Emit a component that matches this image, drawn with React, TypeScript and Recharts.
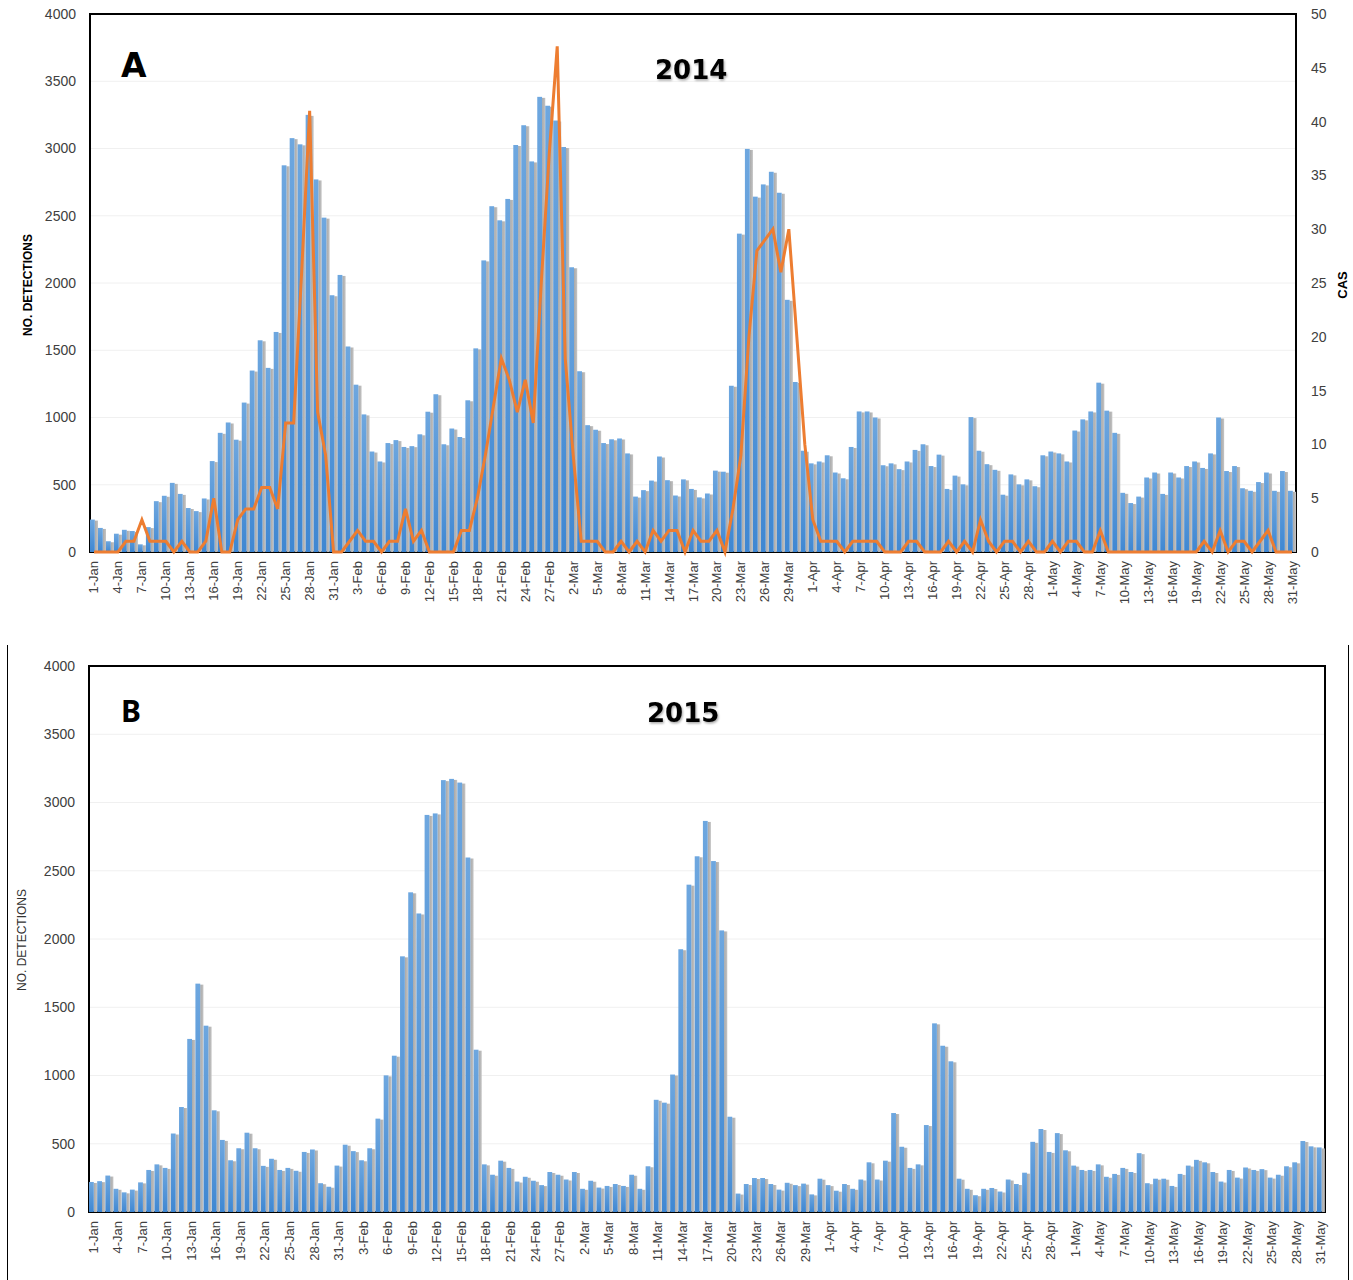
import React from 'react';
import { ComposedChart, BarChart, Bar, Line, XAxis, YAxis, CartesianGrid, ReferenceArea } from 'recharts';

// Jan 1 – May 31, same calendar both years (neither is a leap year)
const MONTHS: [string, number][] = [['Jan', 31], ['Feb', 28], ['Mar', 31], ['Apr', 30], ['May', 31]];
const DAYS = MONTHS.flatMap(([m, n]) => Array.from({ length: n }, (_, i) => `${i + 1}-${m}`));

const DETECTION_TICKS = [0, 500, 1000, 1500, 2000, 2500, 3000, 3500, 4000];
const CAS_TICKS = [0, 5, 10, 15, 20, 25, 30, 35, 40, 45, 50];

// 2014 daily detections
const det2014 = [
  241, 179, 80, 136, 165, 156, 57, 185, 378, 418, 514, 432, 327, 304, 398, 676, 886, 963, 835, 1111,
  1349, 1574, 1369, 1636, 2875, 3077, 3031, 3250, 2770, 2486, 1909,
  2060, 1528, 1244, 1023, 747, 673, 810, 832, 781, 787, 875, 1043, 1173, 801, 918, 855, 1128, 1514, 2168, 2571,
  2466, 2625, 3026, 3173, 2904, 3384, 3318, 3208,
  3011, 2117, 1344, 943, 909, 810, 838, 844, 733, 412, 460, 531, 710, 534, 420, 540, 469, 406, 435, 605,
  597, 1236, 2367, 2997, 2642, 2733, 2827, 2671, 1875, 1264, 753,
  659, 673, 719, 591, 548, 781, 1045, 1045, 1000, 645, 659, 616, 673, 759, 801, 639, 724, 469, 568, 503,
  1003, 753, 653, 611, 426, 577, 503, 540, 489, 719,
  747, 733, 673, 903, 986, 1045, 1259, 1051, 886, 440, 364, 412, 554, 591, 432, 591, 554, 639, 673, 625,
  733, 1000, 602, 639, 474, 455, 520, 591, 455, 602, 455,
];

// 2014 daily CAS counts (right axis)
const cas2014 = [
  0, 0, 0, 0, 1, 1, 3, 1, 1, 1, 0, 1, 0, 0, 1, 5, 0, 0, 3, 4, 4, 6, 6, 4, 12, 12, 26, 41, 13, 9, 0,
  0, 1, 2, 1, 1, 0, 1, 1, 4, 1, 2, 0, 0, 0, 0, 2, 2, 5, 9, 13.5, 18, 16, 13, 16, 12, 25, 37, 47,
  18, 9, 1, 1, 1, 0, 0, 1, 0, 1, 0, 2, 1, 2, 2, 0, 2, 1, 1, 2, 0, 4, 9, 20, 28, 29, 30, 26, 30, 20, 10,
  3, 1, 1, 1, 0, 1, 1, 1, 1, 0, 0, 0, 1, 1, 0, 0, 0, 1, 0, 1, 0, 3, 1, 0, 1, 1, 0, 1, 0, 0,
  1, 0, 1, 1, 0, 0, 2, 0, 0, 0, 0, 0, 0, 0, 0, 0, 0, 0, 0, 1, 0, 2, 0, 1, 1, 0, 1, 2, 0, 0, 0,
];

// 2015 daily detections
const det2015 = [
  220, 226, 267, 170, 144, 164, 217, 308, 349, 323, 575, 769, 1268, 1673, 1365, 745, 528, 379, 467, 581,
  467, 338, 390, 308, 323, 302, 440, 458, 211, 185, 340,
  493, 446, 379, 467, 684, 1001, 1145, 1873, 2342, 2187, 2909, 2920, 3164, 3173, 3146, 2597, 1189, 349, 273, 376,
  323, 223, 258, 229, 197, 293, 273, 238,
  293, 170, 229, 179, 191, 205, 191, 273, 170, 335, 822, 801, 1007, 1925, 2398, 2606, 2865, 2571, 2063, 698,
  135, 205, 249, 249, 205, 164, 214, 197, 208, 129, 244,
  197, 156, 205, 170, 238, 364, 238, 376, 725, 478, 323, 349, 637, 1382, 1218, 1104, 244, 170, 123, 170,
  176, 150, 238, 205, 288, 514, 608, 440, 578, 452,
  340, 308, 308, 349, 258, 279, 323, 293, 431, 211, 244, 244, 191, 279, 340, 382, 364, 293, 223, 308,
  252, 326, 308, 314, 252, 273, 335, 364, 520, 481, 473,
];

const rows2014 = DAYS.map((day, i) => ({ day, det: det2014[i], cas: cas2014[i] }));
const rows2015 = DAYS.map((day, i) => ({ day, det: det2015[i] }));

const FONT = '"Liberation Sans", Arial, sans-serif';
const TICK_STYLE = { fontSize: 14, fill: '#404040', fontFamily: FONT };

// rotated date labels below the axis
const DayTick = (props: any) => {
  const { x, y, payload } = props;
  return (
    <text
      x={x}
      y={y + 7}
      transform={`rotate(-90, ${x}, ${y + 7})`}
      textAnchor="end"
      dominantBaseline="central"
      fontSize={13}
      fontFamily={FONT}
      fill="#404040"
    >
      {payload.value}
    </text>
  );
};

// blue column with the grey shading Excel puts next to it
const makeBar = (id: string) => (props: any) => {
  const { x, y, width, height } = props;
  if (!height || height <= 0) return null;
  const bw = width * 0.6;
  return (
    <g>
      <rect x={x + bw} y={y + 1} width={width - bw} height={Math.max(height - 1, 0)} fill={`url(#grey${id})`} />
      <rect x={x} y={y} width={bw} height={height} fill={`url(#blue${id})`} />
    </g>
  );
};

const Gradients = ({ id }: { id: string }) => (
  <defs>
    <linearGradient id={`blue${id}`} x1="0" y1="0" x2="0" y2="1">
      <stop offset="0%" stopColor="#6ea7df" />
      <stop offset="100%" stopColor="#3f87d2" />
    </linearGradient>
    <linearGradient id={`grey${id}`} x1="0" y1="0" x2="1" y2="0">
      <stop offset="0%" stopColor="#a8a8a8" />
      <stop offset="100%" stopColor="#c4c4c4" />
    </linearGradient>
  </defs>
);

export default function App() {
  return (
    <div style={{ position: 'absolute', left: 0, top: 0, width: 1353, height: 1280, background: '#fff' }}>
      {/* Panel A: 2014 */}
      <div style={{ position: 'absolute', left: 0, top: 0 }}>
        <ComposedChart width={1353} height={620} data={rows2014} margin={{ top: 14, right: 0, bottom: 0, left: 0 }} barCategoryGap={0}>
          <Gradients id="A" />
          <CartesianGrid vertical={false} stroke="#f0f0f0" yAxisId="left" />
          <XAxis dataKey="day" interval={2} tick={<DayTick />} tickLine={false} axisLine={false} tickSize={0} height={68} />
          <YAxis yAxisId="left" domain={[0, 4000]} ticks={DETECTION_TICKS} width={90} tick={TICK_STYLE}
            tickLine={false} axisLine={false} tickSize={6} tickMargin={8} />
          <YAxis yAxisId="right" orientation="right" domain={[0, 50]} ticks={CAS_TICKS} width={57} tick={TICK_STYLE}
            tickLine={false} axisLine={false} tickSize={6} tickMargin={9} />
          <Bar yAxisId="left" dataKey="det" shape={makeBar('A')} isAnimationActive={false} />
          <Line yAxisId="right" dataKey="cas" type="linear" stroke="#ed7d31" strokeWidth={3} dot={false} isAnimationActive={false} />
          <ReferenceArea yAxisId="left" y1={0} y2={4000} fill="none" stroke="#000" strokeWidth={2} />
        </ComposedChart>
      </div>

      {/* Panel B: 2015 */}
      <div style={{ position: 'absolute', left: 0, top: 652 }}>
        <BarChart width={1353} height={628} data={rows2015} margin={{ top: 14, right: 28, bottom: 0, left: 0 }} barCategoryGap={0}>
          <Gradients id="B" />
          <CartesianGrid vertical={false} stroke="#f0f0f0" />
          <XAxis dataKey="day" interval={2} tick={<DayTick />} tickLine={false} axisLine={false} tickSize={0} height={68} />
          <YAxis domain={[0, 4000]} ticks={DETECTION_TICKS} width={89} tick={TICK_STYLE}
            tickLine={false} axisLine={false} tickSize={6} tickMargin={8} />
          <Bar dataKey="det" shape={makeBar('B')} isAnimationActive={false} />
          <ReferenceArea y1={0} y2={4000} fill="none" stroke="#000" strokeWidth={2} />
        </BarChart>
      </div>

      {/* titles, axis names and the frame around panel B */}
      <svg width={1353} height={1280} style={{ position: 'absolute', left: 0, top: 0, pointerEvents: 'none' }}>
        <defs>
          <filter id="shadow" x="-10%" y="-10%" width="130%" height="140%">
            <feDropShadow dx="1" dy="1.5" stdDeviation="1" floodColor="#000" floodOpacity="0.35" />
          </filter>
        </defs>
        <text x={121} y={77} fontSize={33} fontWeight="bold" fontFamily='"DejaVu Sans", sans-serif' fill="#000">A</text>
        <text x={655} y={79} fontSize={26} fontWeight="bold" fontFamily='"DejaVu Sans", sans-serif' fill="#000" filter="url(#shadow)">2014</text>
        <text x={121} y={722} fontSize={30} fontWeight="bold" fontFamily='"Noto Sans", sans-serif' fill="#000">B</text>
        <text x={647} y={722} fontSize={26} fontWeight="bold" fontFamily='"DejaVu Sans", sans-serif' fill="#000" filter="url(#shadow)">2015</text>

        <text x={28} y={285} transform="rotate(-90, 28, 285)" textAnchor="middle" dominantBaseline="central"
          fontSize={12} fontWeight="bold" fontFamily={FONT} fill="#000">NO. DETECTIONS</text>
        <text x={1342} y={285} transform="rotate(-90, 1342, 285)" textAnchor="middle" dominantBaseline="central"
          fontSize={13} fontWeight="bold" fontFamily={FONT} fill="#000">CAS</text>
        <text x={22} y={940} transform="rotate(-90, 22, 940)" textAnchor="middle" dominantBaseline="central"
          fontSize={12} fontFamily={FONT} fill="#333">NO. DETECTIONS</text>

        <line x1={7.5} y1={645} x2={7.5} y2={1280} stroke="#000" strokeWidth={1} />
        <line x1={1348.5} y1={645} x2={1348.5} y2={1280} stroke="#000" strokeWidth={1} />
      </svg>
    </div>
  );
}
